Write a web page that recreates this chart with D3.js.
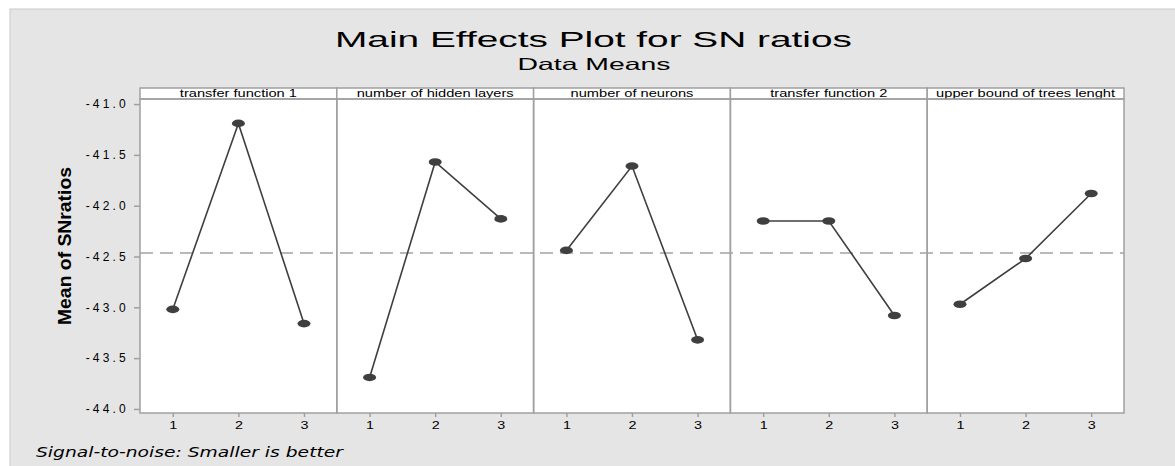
<!DOCTYPE html>
<html>
<head>
<meta charset="utf-8">
<script src="https://cdn.jsdelivr.net/npm/d3@7/dist/d3.min.js"></script>
<style>
  html, body { margin: 0; padding: 0; background: #ffffff; }
  svg { display: block; }
  text { font-family: "Liberation Sans", Arial, sans-serif; fill: #000; }
</style>
</head>
<body>
<svg id="chart" width="1175" height="466"></svg>
<script>
// ---- data ----
const factors = ["transfer function 1", "number of hidden layers", "number of neurons", "transfer function 2", "upper bound of trees lenght"];
const levels = [1, 2, 3];
const tf1 = [-43.02, -41.19, -43.16];
const hiddenLayers = [-43.69, -41.57, -42.13];
const neurons = [-42.44, -41.61, -43.32];
const tf2 = [-42.15, -42.15, -43.08];
const upperBound = [-42.97, -42.52, -41.88];
const seriesValues = [tf1, hiddenLayers, neurons, tf2, upperBound];
const grandMean = -42.465;
const yTicks = [-44.0, -43.5, -43.0, -42.5, -42.0, -41.5, -41.0];
const titleText = "Main Effects Plot for SN ratios";
const subtitleText = "Data Means";
const yTitle = "Mean of SNratios";
const footerText = "Signal-to-noise: Smaller is better";

// ---- layout ----
const W = 1175, H = 466;
const bgLeft = 10, bgTop = 9;
const plotL = 140, plotR = 1124, stripTop = 88, stripBot = 99, plotB = 413;
const borderCol = "#a0a0a0", markCol = "#3f3f3f";

const svg = d3.select("#chart");

// background
svg.append("rect").attr("x", 0).attr("y", 0).attr("width", W).attr("height", H).attr("fill", "#ffffff");
svg.append("rect").attr("x", bgLeft).attr("y", bgTop).attr("width", W - bgLeft + 2).attr("height", H - bgTop + 2)
  .attr("fill", "#e5e5e5").attr("stroke", "#c9c9c9").attr("stroke-width", 1);

// scales
const band = d3.scaleBand().domain(factors).range([plotL, plotR]).paddingInner(0).paddingOuter(0);
const y = d3.scaleLinear().domain([-44.04, -40.95]).range([plotB, stripBot]);

// plot area background
svg.append("rect").attr("x", plotL).attr("y", stripBot).attr("width", plotR - plotL).attr("height", plotB - stripBot)
  .attr("fill", "#ffffff");

// titles
svg.append("text").attr("x", 335).attr("y", 46.5).attr("font-size", 21.5)
  .attr("textLength", 517).attr("lengthAdjust", "spacingAndGlyphs").text(titleText);
svg.append("text").attr("x", 594).attr("y", 69.5).attr("text-anchor", "middle").attr("font-size", 16.5)
  .attr("textLength", 153).attr("lengthAdjust", "spacingAndGlyphs").text(subtitleText);

// panels
factors.forEach((f, i) => {
  const x0 = band(f), x1 = x0 + band.bandwidth();
  const x = d3.scaleLinear().domain([0.5, 3.5]).range([x0, x1]);
  const g = svg.append("g");

  // strip
  g.append("rect").attr("x", x0).attr("y", stripTop).attr("width", x1 - x0).attr("height", stripBot - stripTop)
    .attr("fill", "#ffffff").attr("stroke", borderCol).attr("stroke-width", 1.5);
  const st = g.append("text").attr("x", (x0 + x1) / 2).attr("y", 97.3).attr("text-anchor", "middle")
    .attr("font-size", 11).text(f);
  const nat = st.node().getComputedTextLength();
  st.attr("textLength", nat * 1.33).attr("lengthAdjust", "spacingAndGlyphs");

  // panel border
  g.append("rect").attr("x", x0).attr("y", stripBot).attr("width", x1 - x0).attr("height", plotB - stripBot)
    .attr("fill", "none").attr("stroke", borderCol).attr("stroke-width", 1.5);

  // x axis ticks
  const xa = d3.axisBottom(x).tickValues(levels).tickSize(4).tickPadding(4).tickFormat(d3.format("d"));
  const ax = g.append("g").attr("transform", `translate(0,${plotB})`).call(xa);
  ax.select(".domain").remove();
  ax.selectAll(".tick line").attr("stroke", borderCol).attr("stroke-width", 1.5);
  ax.selectAll(".tick text").attr("font-size", 11.5).attr("font-family", "Liberation Sans, Arial, sans-serif")
    .attr("fill", "#000").attr("transform", "scale(1.25,1)");
});

// y axis
const ya = d3.axisLeft(y).tickValues(yTicks).tickSize(6).tickPadding(5).tickFormat(d => d.toFixed(1));
const yg = svg.append("g").attr("transform", `translate(${plotL},0)`).call(ya);
yg.select(".domain").remove();
yg.selectAll(".tick line").attr("stroke", borderCol).attr("stroke-width", 1.5);
yg.selectAll(".tick text").attr("font-size", 12).attr("font-family", "Liberation Sans, Arial, sans-serif")
  .attr("fill", "#000").attr("letter-spacing", "3.2px");

// mean reference line
svg.append("line").attr("x1", plotL).attr("x2", plotR).attr("y1", y(grandMean)).attr("y2", y(grandMean))
  .attr("stroke", "#a3a3a3").attr("stroke-width", 1.5).attr("stroke-dasharray", "13,7");

// series
factors.forEach((f, i) => {
  const x0 = band(f), x1 = x0 + band.bandwidth();
  const x = d3.scaleLinear().domain([0.5, 3.5]).range([x0, x1]);
  const vals = seriesValues[i];
  const pts = levels.map((l, j) => [x(l), y(vals[j])]);
  svg.append("path").attr("d", d3.line()(pts)).attr("fill", "none").attr("stroke", markCol).attr("stroke-width", 1.6);
  svg.selectAll(null).data(pts).enter().append("ellipse")
    .attr("cx", d => d[0]).attr("cy", d => d[1]).attr("rx", 6.5).attr("ry", 3.8).attr("fill", markCol);
});

// y title
svg.append("text").attr("transform", "translate(71,246) rotate(-90)").attr("text-anchor", "middle")
  .attr("font-size", 18.5).attr("font-weight", "bold")
  .attr("textLength", 158).attr("lengthAdjust", "spacingAndGlyphs").text(yTitle);

// footer
svg.append("text").attr("x", 36).attr("y", 457).attr("font-size", 14).attr("font-style", "italic")
  .style("font-family", "'DejaVu Sans', Verdana, sans-serif")
  .attr("textLength", 307).attr("lengthAdjust", "spacingAndGlyphs").text(footerText);
</script>
</body>
</html>
